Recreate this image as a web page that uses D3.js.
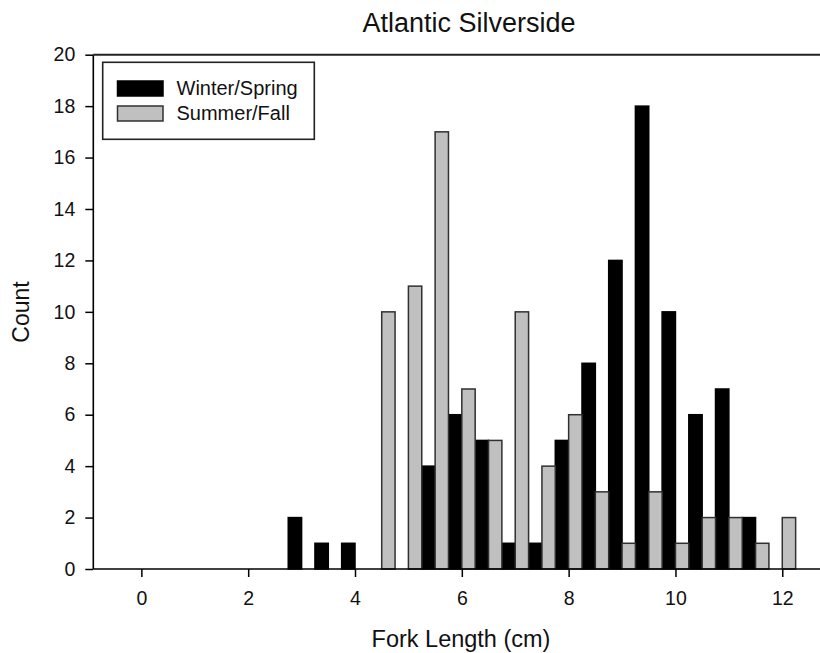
<!DOCTYPE html>
<html>
<head>
<meta charset="utf-8">
<script src="https://cdn.jsdelivr.net/npm/d3@7"></script>
<style>
  html, body { margin: 0; padding: 0; background: #fff; }
  svg { display: block; font-family: "Liberation Sans", Arial, sans-serif; }
</style>
</head>
<body>
<svg id="chart" width="820" height="653"></svg>
<script>
// ---- data ----
const binCenters = [3.0, 3.5, 4.0, 4.5, 5.0, 5.5, 6.0, 6.5, 7.0, 7.5, 8.0, 8.5, 9.0, 9.5, 10.0, 10.5, 11.0, 11.5, 12.0];
const winterSpring = [2, 1, 1, 0, 0, 4, 6, 5, 1, 1, 5, 8, 12, 18, 10, 6, 7, 2, 0];
const summerFall   = [0, 0, 0, 10, 11, 17, 7, 5, 10, 4, 6, 3, 1, 3, 1, 2, 2, 1, 2];
const seriesNames = ["Winter/Spring", "Summer/Fall"];
const xTicks = [0, 2, 4, 6, 8, 10, 12];
const yTicks = [0, 2, 4, 6, 8, 10, 12, 14, 16, 18, 20];
const title = "Atlantic Silverside";
const xLabel = "Fork Length (cm)";
const yLabel = "Count";

// ---- layout ----
const svg = d3.select("#chart");
const x = d3.scaleLinear().domain([-0.9, 12.8]).range([93.3, 825]);
const y = d3.scaleLinear().domain([0, 20]).range([569, 54.7]);
const barW = 0.25;
const colors = ["#000000", "#c0c0c0"];
const strokes = ["#000000", "#303030"];

const series = [winterSpring, summerFall];
series.forEach((vals, si) => {
  const data = binCenters.map((c, i) => ({ c, v: vals[i] })).filter(d => d.v > 0);
  svg.append("g").selectAll("rect").data(data).join("rect")
    .attr("x", d => x(d.c + (si === 0 ? -barW : 0)))
    .attr("width", d => x(d.c + barW) - x(d.c))
    .attr("y", d => y(d.v))
    .attr("height", d => y(0) - y(d.v))
    .attr("fill", colors[si])
    .attr("stroke", strokes[si])
    .attr("stroke-width", 1.5);
});

// axes
const xAxis = svg.append("g").attr("transform", `translate(0,${y(0)})`)
  .call(d3.axisBottom(x).tickValues(xTicks).tickSize(8).tickPadding(14).tickFormat(d3.format("d")));
const yAxis = svg.append("g").attr("transform", `translate(${x.range()[0]},0)`)
  .call(d3.axisLeft(y).tickValues(yTicks).tickSize(8).tickPadding(10).tickFormat(d3.format("d")));
[xAxis, yAxis].forEach(a => {
  a.select(".domain").attr("stroke", "#000").attr("stroke-width", 1.6);
  a.selectAll(".tick line").attr("stroke", "#000").attr("stroke-width", 1.5);
  a.selectAll(".tick text").attr("font-size", 19.5).attr("fill", "#111")
    .attr("font-family", "Liberation Sans, Arial, sans-serif");
});
xAxis.select(".domain").attr("d", `M${x.range()[0]},0H${x.range()[1]}`);
yAxis.select(".domain").attr("d", `M0,${y.range()[0]}V${y.range()[1]}`);

// top frame line
svg.append("line")
  .attr("x1", x.range()[0]).attr("x2", x.range()[1])
  .attr("y1", y(20)).attr("y2", y(20))
  .attr("stroke", "#222").attr("stroke-width", 2);

// title and labels
svg.append("text").attr("x", 469).attr("y", 32).attr("text-anchor", "middle")
  .attr("font-size", 27).attr("fill", "#111").text(title);
svg.append("text").attr("x", 461).attr("y", 647).attr("text-anchor", "middle")
  .attr("font-size", 23.5).attr("fill", "#111").text(xLabel);
svg.append("text").attr("transform", "translate(29,312) rotate(-90)").attr("text-anchor", "middle")
  .attr("font-size", 23).attr("fill", "#111").text(yLabel);

// legend
const lg = svg.append("g");
lg.append("rect").attr("x", 102.7).attr("y", 62.3).attr("width", 211.6).attr("height", 77)
  .attr("fill", "#fff").attr("stroke", "#222").attr("stroke-width", 1.6);
seriesNames.forEach((name, i) => {
  lg.append("rect").attr("x", 117.5).attr("y", 81 + i * 25).attr("width", 45.5).attr("height", 15)
    .attr("fill", colors[i]).attr("stroke", strokes[i]).attr("stroke-width", 1.5);
  lg.append("text").attr("x", 176.5).attr("y", 95 + i * 25).attr("font-size", 20)
    .attr("fill", "#111").text(name);
});
</script>
</body>
</html>
